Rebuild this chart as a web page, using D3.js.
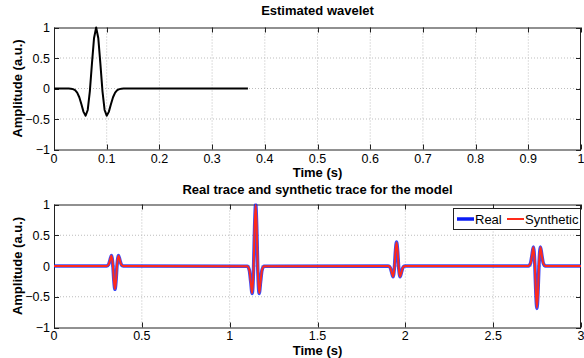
<!DOCTYPE html>
<html>
<head>
<meta charset="utf-8">
<script src="https://cdn.jsdelivr.net/npm/d3@7"></script>
<style>
  html, body { margin: 0; padding: 0; background: #fff; }
  svg { display: block; }
  text { font-family: "Liberation Sans", Arial, Helvetica, sans-serif; fill: #000; }
</style>
</head>
<body>
<svg id="chart" width="584" height="358"></svg>
<script>
// ---- Data ----
// Estimated wavelet (sampled points, linear between them)
const waveletTime = [0, 0.028, 0.032, 0.036, 0.040, 0.044, 0.048, 0.052, 0.056, 0.060, 0.064, 0.068, 0.072, 0.076, 0.080,
                     0.084, 0.088, 0.092, 0.096, 0.100, 0.104, 0.108, 0.112, 0.116, 0.120, 0.124, 0.128, 0.132, 0.368];
const waveletAmp  = [0, -0.001, -0.003, -0.010, -0.027, -0.068, -0.144, -0.258, -0.383, -0.446, -0.352, -0.047, 0.409, 0.829, 1.0,
                     0.829, 0.409, -0.047, -0.352, -0.446, -0.383, -0.258, -0.144, -0.068, -0.027, -0.010, -0.003, -0.001, 0];

// Real trace: key points around each reflection event
const realTime = [0,
  0.299, 0.311, 0.319, 0.327, 0.335, 0.341, 0.347, 0.353, 0.359, 0.367, 0.375, 0.383, 0.395,
  1.100, 1.112, 1.120, 1.128, 1.136, 1.142, 1.148, 1.154, 1.160, 1.168, 1.176, 1.184, 1.196,
  1.902, 1.914, 1.922, 1.930, 1.938, 1.944, 1.950, 1.956, 1.962, 1.970, 1.978, 1.986, 1.998,
  2.701, 2.713, 2.721, 2.729, 2.737, 2.743, 2.749, 2.755, 2.761, 2.769, 2.777, 2.785, 2.797,
  3.0];
const realAmp = [0,
  0.001, 0.026, 0.098, 0.169, 0.018, -0.242, -0.380, -0.242, 0.018, 0.169, 0.098, 0.026, 0.001,
  -0.003, -0.068, -0.258, -0.446, -0.047, 0.638, 1.000, 0.638, -0.047, -0.446, -0.258, -0.068, -0.003,
  -0.001, -0.027, -0.101, -0.174, -0.018, 0.249, 0.390, 0.249, -0.018, -0.174, -0.101, -0.027, -0.001,
  0.002, 0.047, 0.178, 0.308, 0.032, -0.440, -0.690, -0.440, 0.032, 0.308, 0.178, 0.047, 0.002,
  0];

// Synthetic trace
const synthTime = realTime;
const synthAmp = [0,
  0.001, 0.025, 0.096, 0.166, 0.018, -0.238, -0.374, -0.238, 0.018, 0.166, 0.096, 0.025, 0.001,
  -0.003, -0.067, -0.255, -0.441, -0.046, 0.631, 0.990, 0.631, -0.046, -0.441, -0.255, -0.067, -0.003,
  -0.001, -0.026, -0.099, -0.171, -0.018, 0.245, 0.384, 0.245, -0.018, -0.171, -0.099, -0.026, -0.001,
  0.002, 0.046, 0.175, 0.303, 0.031, -0.433, -0.680, -0.433, 0.031, 0.303, 0.175, 0.046, 0.002,
  0];

const topXTicks = [0, 0.1, 0.2, 0.3, 0.4, 0.5, 0.6, 0.7, 0.8, 0.9, 1];
const botXTicks = [0, 0.5, 1, 1.5, 2, 2.5, 3];
const yTicks = [-1, -0.5, 0, 0.5, 1];

const legendLabels = ["Real", "Synthetic"];
const seriesColors = ["#0a1cf5", "#ff2a1a"];

// ---- Layout ----
const svg = d3.select("#chart");
const left = 54, right = 581;

function fmt(v) {
  const s = String(v);
  return s.replace("-", "\u2212");
}

function drawAxes(g, x, y, xTicks, top, bottom, title, titleY, xlabelY, xTickY) {
  // grid
  const grid = g.append("g");
  grid.selectAll("line.gx").data(xTicks.slice(1, -1)).join("line")
    .attr("x1", d => x(d)).attr("x2", d => x(d))
    .attr("y1", top).attr("y2", bottom)
    .attr("stroke", "#bdbdbd").attr("stroke-width", 1).attr("stroke-dasharray", "1,2");
  grid.selectAll("line.gy").data(yTicks.slice(1, -1)).join("line")
    .attr("x1", left).attr("x2", right)
    .attr("y1", d => y(d)).attr("y2", d => y(d))
    .attr("stroke", "#bdbdbd").attr("stroke-width", 1).attr("stroke-dasharray", "1,2");

  // ticks (inside)
  const tl = 5;
  const ticks = g.append("g").attr("stroke", "#222").attr("stroke-width", 1);
  xTicks.forEach(d => {
    const xx = Math.round(x(d)) + 0.5;
    ticks.append("line").attr("x1", xx).attr("x2", xx).attr("y1", bottom).attr("y2", bottom - tl);
    ticks.append("line").attr("x1", xx).attr("x2", xx).attr("y1", top).attr("y2", top + tl);
  });
  yTicks.forEach(d => {
    const yy = Math.round(y(d)) + 0.5;
    ticks.append("line").attr("x1", left).attr("x2", left + tl).attr("y1", yy).attr("y2", yy);
    ticks.append("line").attr("x1", right).attr("x2", right - tl).attr("y1", yy).attr("y2", yy);
  });

  // box
  g.append("rect").attr("x", left + 0.5).attr("y", top + 0.5)
    .attr("width", right - left - 1).attr("height", bottom - top)
    .attr("fill", "none").attr("stroke", "#222").attr("stroke-width", 1);

  // tick labels
  g.append("g").selectAll("text").data(xTicks).join("text")
    .attr("x", d => x(d)).attr("y", xTickY)
    .attr("text-anchor", "middle").attr("font-size", 12.5)
    .text(d => fmt(d));
  g.append("g").selectAll("text").data(yTicks).join("text")
    .attr("x", 50).attr("y", d => y(d) + 4.5)
    .attr("text-anchor", "end").attr("font-size", 12.5)
    .text(d => fmt(d));

  // title
  g.append("text").attr("x", (left + right) / 2).attr("y", titleY)
    .attr("text-anchor", "middle").attr("font-size", 13).attr("font-weight", "bold")
    .text(title);
  // x label
  g.append("text").attr("x", (left + right) / 2).attr("y", xlabelY)
    .attr("text-anchor", "middle").attr("font-size", 13).attr("font-weight", "bold")
    .text("Time (s)");
  // y label
  g.append("text")
    .attr("transform", `translate(22,${(top + bottom) / 2}) rotate(-90)`)
    .attr("text-anchor", "middle").attr("font-size", 13).attr("font-weight", "bold")
    .text("Amplitude (a.u.)");
}

// ---- Top plot ----
const t1 = 27.5, b1 = 149.5;
const x1 = d3.scaleLinear().domain([0, 1]).range([left, right]);
const y1 = d3.scaleLinear().domain([-1, 1]).range([b1, t1]);
const g1 = svg.append("g");
drawAxes(g1, x1, y1, topXTicks, t1, b1, "Estimated wavelet", 14.5, 177, 162.5);

const wline = d3.line().x((d, i) => x1(waveletTime[i])).y(d => y1(d)).curve(d3.curveLinear);
g1.append("path").datum(waveletAmp).attr("d", wline)
  .attr("fill", "none").attr("stroke", "#000").attr("stroke-width", 2).attr("stroke-linejoin", "round");

// ---- Bottom plot ----
const t2 = 204.5, b2 = 327.5;
const x2 = d3.scaleLinear().domain([0, 3]).range([left, right]);
const y2 = d3.scaleLinear().domain([-1, 1]).range([b2, t2]);
const g2 = svg.append("g");
drawAxes(g2, x2, y2, botXTicks, t2, b2, "Real trace and synthetic trace for the model", 194, 354.5, 340);

const clip = svg.append("clipPath").attr("id", "clip2").append("rect")
  .attr("x", left).attr("y", t2 - 1).attr("width", right - left).attr("height", b2 - t2 + 2);

const realLine = d3.line().x((d, i) => x2(realTime[i])).y(d => y2(d)).curve(d3.curveMonotoneX);
const synthLine = d3.line().x((d, i) => x2(synthTime[i])).y(d => y2(d)).curve(d3.curveMonotoneX);
const traces = g2.append("g").attr("clip-path", "url(#clip2)");
traces.append("path").datum(realAmp).attr("d", realLine)
  .attr("fill", "none").attr("stroke", seriesColors[0]).attr("stroke-width", 3.5)
  .attr("stroke-opacity", 0.8).attr("stroke-linejoin", "round");
traces.append("path").datum(synthAmp).attr("d", synthLine)
  .attr("fill", "none").attr("stroke", seriesColors[1]).attr("stroke-width", 2)
  .attr("stroke-linejoin", "round");

// legend
const lg = g2.append("g");
lg.append("rect").attr("x", 453.5).attr("y", 208.5).attr("width", 127).attr("height", 21)
  .attr("fill", "#fff").attr("stroke", "#222").attr("stroke-width", 1);
const legItems = [{x0: 457, x1: 474, tx: 475}, {x0: 507, x1: 524, tx: 525}];
legItems.forEach((it, i) => {
  lg.append("line").attr("x1", it.x0).attr("x2", it.x1).attr("y1", 219).attr("y2", 219)
    .attr("stroke", seriesColors[i]).attr("stroke-width", i === 0 ? 3.5 : 2);
  lg.append("text").attr("x", it.tx).attr("y", 223.5).attr("font-size", 13).text(legendLabels[i]);
});
</script>
</body>
</html>
